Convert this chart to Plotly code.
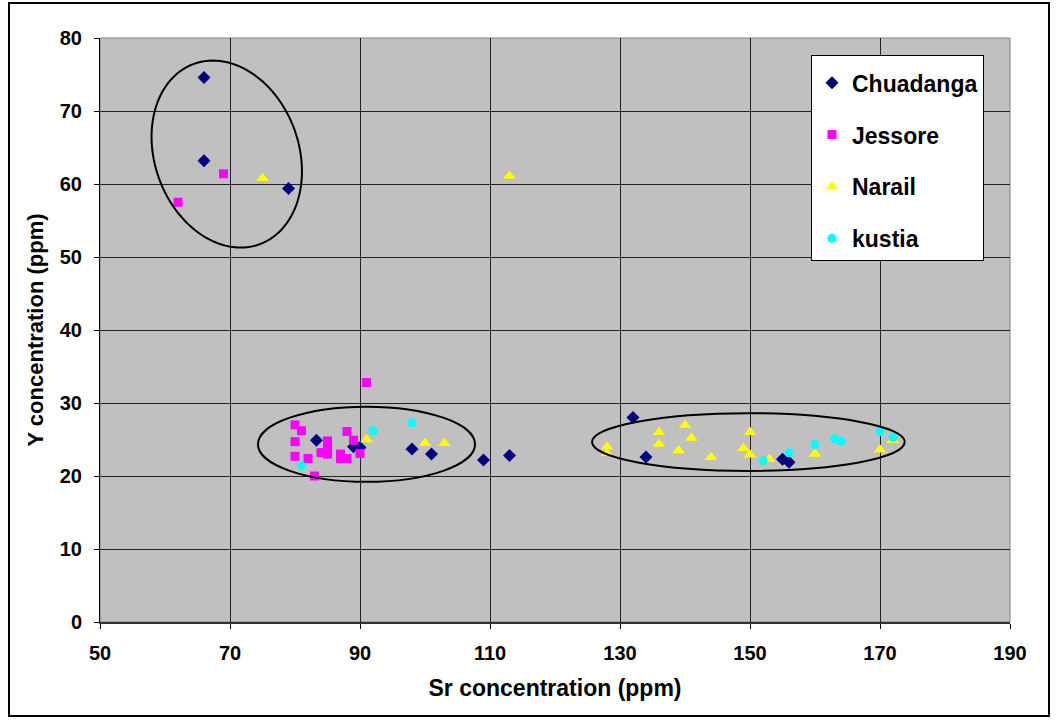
import numpy as np
import plotly.graph_objects as go

# Sr (x) and Y (y) concentrations in ppm, by district
chuadanga_sr = [66, 66, 79, 83.3, 89, 90, 98, 101, 109, 113, 132, 134, 155, 156]
chuadanga_y = [74.6, 63.2, 59.4, 24.9, 24.0, 23.9, 23.7, 23.0, 22.2, 22.8, 28.0, 22.6, 22.3, 21.9]

jessore_sr = [62, 69, 91, 80, 81, 80, 80, 82, 83, 85, 85, 84, 85, 87, 87, 88, 88, 89, 90]
jessore_y = [57.5, 61.4, 32.8, 27.0, 26.2, 24.7, 22.7, 22.4, 20.0, 24.8, 24.1, 23.2, 23.0,
             23.0, 22.4, 22.4, 26.1, 24.9, 23.1]

narail_sr = [75, 113, 91, 100, 103, 128, 128, 136, 136, 139, 140, 141, 144, 149, 150, 150,
             153, 160, 170, 172]
narail_y = [60.8, 61.1, 25.0, 24.5, 24.5, 24.0, 23.1, 26.0, 24.4, 23.5, 27.0, 25.2, 22.6,
            23.8, 26.0, 22.9, 22.3, 23.0, 23.6, 24.9]

kustia_sr = [81, 92, 98, 152, 156, 160, 163, 164, 170, 172]
kustia_y = [21.4, 26.2, 27.3, 22.1, 23.2, 24.3, 25.1, 24.8, 26.1, 25.3]

x_ticks = [50, 70, 90, 110, 130, 150, 170, 190]
y_ticks = [0, 10, 20, 30, 40, 50, 60, 70, 80]

FONT = "Liberation Sans, Arial, sans-serif"

# plot area geometry (pixels)
W, H = 1057, 721
ML, MR, MT, MB = 100, 47, 38, 99
PW, PH = W - ML - MR, H - MT - MB
px_per_x = PW / (x_ticks[-1] - x_ticks[0])
px_per_y = PH / (y_ticks[-1] - y_ticks[0])

fig = go.Figure()

series = [
    ("Chuadanga", chuadanga_sr, chuadanga_y, "diamond", "#000080", 10),
    ("Jessore", jessore_sr, jessore_y, "square", "#FF00FF", 9),
    ("Narail", narail_sr, narail_y, "triangle-up", "#FFFF00", 11),
    ("kustia", kustia_sr, kustia_y, "circle", "#00FFFF", 9),
]
for name, xs, ys, sym, col, size in series:
    fig.add_trace(go.Scatter(
        x=xs, y=ys, mode="markers", name=f"<b>{name}</b>", legendgroup=name,
        marker=dict(symbol=sym, color=col, size=size, line=dict(width=0)),
    ))

# tilted ellipse around the upper-left group (drawn in screen space, mapped to data)
cx, cy = 69.5, 64.1
a_px, b_px, tilt = 96, 72, np.deg2rad(20)
t = np.linspace(0, 2 * np.pi, 121)
dx = a_px * np.cos(t) * np.sin(tilt) + b_px * np.sin(t) * np.cos(tilt)
dy = a_px * np.cos(t) * np.cos(tilt) - b_px * np.sin(t) * np.sin(tilt)
ex = cx + dx / px_per_x
ey = cy - dy / px_per_y
path = "M " + " L ".join(f"{x:.3f},{y:.3f}" for x, y in zip(ex, ey)) + " Z"
fig.add_shape(type="path", path=path, xref="x", yref="y",
              line=dict(color="black", width=2))

# ellipses around the two lower groups
fig.add_shape(type="circle", xref="x", yref="y", x0=74.3, x1=107.7, y0=19.2, y1=29.5,
              line=dict(color="black", width=2))
fig.add_shape(type="circle", xref="x", yref="y", x0=125.7, x1=173.8, y0=20.7, y1=28.6,
              line=dict(color="black", width=2))

# plot area frame
fig.add_shape(type="rect", xref="paper", yref="paper", x0=0, x1=1, y0=0, y1=1,
              line=dict(color="#808080", width=1), layer="below")

# outer chart frame
fig.add_shape(type="rect", xref="paper", yref="paper",
              x0=(9 - ML) / PW, x1=(1049 - ML) / PW,
              y0=(MT + PH - 716) / PH, y1=(MT + PH - 3) / PH,
              line=dict(color="black", width=2))

fig.update_layout(
    width=W, height=H,
    margin=dict(l=ML, r=MR, t=MT, b=MB),
    paper_bgcolor="white",
    plot_bgcolor="#C0C0C0",
    font=dict(family=FONT, color="black"),
    showlegend=True,
    legend=dict(
        x=(811 - ML) / PW, y=(MT + PH - 55) / PH, xanchor="left", yanchor="top",
        bgcolor="white", bordercolor="black", borderwidth=1,
        font=dict(family=FONT, size=23, color="black"),
        title=dict(text=" ", font=dict(size=4)),
        tracegroupgap=19, itemwidth=30,
    ),
    xaxis=dict(
        range=[x_ticks[0], x_ticks[-1]], tickvals=x_ticks,
        ticktext=[f"<b>{v}</b>" for v in x_ticks],
        showgrid=True, gridcolor="#222222", gridwidth=1, zeroline=False,
        showline=True, linecolor="#333333", linewidth=2,
        ticks="outside", ticklen=5, tickcolor="black", ticklabelstandoff=7,
        tickfont=dict(family=FONT, size=20),
        title=dict(text="<b>Sr concentration (ppm)</b>", standoff=17,
                   font=dict(family=FONT, size=23)),
    ),
    yaxis=dict(
        range=[y_ticks[0], y_ticks[-1]], tickvals=y_ticks,
        ticktext=[f"<b>{v}</b>" for v in y_ticks],
        showgrid=True, gridcolor="#222222", gridwidth=1, zeroline=False,
        showline=True, linecolor="black", linewidth=1,
        ticks="outside", ticklen=5, tickcolor="black", ticklabelstandoff=8,
        tickfont=dict(family=FONT, size=20),
        title=dict(text="<b>Y concentration (ppm)</b>", standoff=10,
                   font=dict(family=FONT, size=22)),
    ),
)

fig.write_html("out.html")
